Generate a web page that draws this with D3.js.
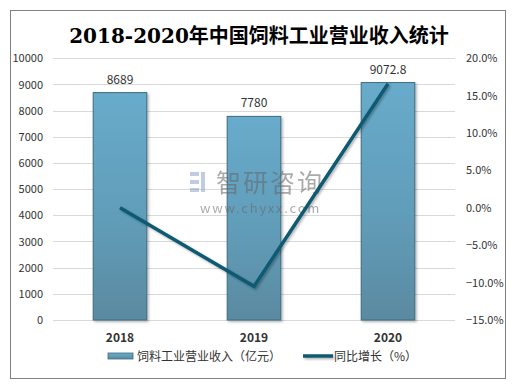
<!DOCTYPE html>
<html><head><meta charset="utf-8">
<script src="https://cdn.jsdelivr.net/npm/d3@7"></script>
<style>body{margin:0;background:#fff}svg{display:block}</style>
</head><body>
<script>
const years = ["2018", "2019", "2020"];
const revenue = [8689, 7780, 9072.8];
const revenueLabels = ["8689", "7780", "9072.8"];
const growth = [0.0, -10.5, 16.6];
const leftTicks = [0,1000,2000,3000,4000,5000,6000,7000,8000,9000,10000];
const rightTicks = [-15,-10,-5,0,5,10,15,20];

const W = 518, H = 385;
const svg = d3.select("body").append("svg").attr("width", W).attr("height", H);
const font = "'Microsoft YaHei','Noto Sans CJK SC',sans-serif";

const defs = svg.append("defs");
const g1 = defs.append("linearGradient").attr("id","barg").attr("x1",0).attr("y1",0).attr("x2",0).attr("y2",1);
g1.append("stop").attr("offset","0%").attr("stop-color","#68abcb");
g1.append("stop").attr("offset","55%").attr("stop-color","#619db9");
g1.append("stop").attr("offset","100%").attr("stop-color","#5a8aa1");
const g2 = defs.append("linearGradient").attr("id","legg").attr("x1",0).attr("y1",0).attr("x2",0).attr("y2",1);
g2.append("stop").attr("offset","0%").attr("stop-color","#6aaccb");
g2.append("stop").attr("offset","100%").attr("stop-color","#5a8aa1");
const f = defs.append("filter").attr("id","sh").attr("filterUnits","userSpaceOnUse")
  .attr("x",0).attr("y",0).attr("width",W).attr("height",H);
f.append("feDropShadow").attr("dx",1.5).attr("dy",1.5).attr("stdDeviation",1.2).attr("flood-color","#000").attr("flood-opacity",0.3);

svg.append("rect").attr("x",10.5).attr("y",10.5).attr("width",495).attr("height",368)
  .attr("fill","#fff").attr("stroke","#808080").attr("stroke-width",1);

svg.append("text").attr("x",259).attr("y",43).attr("text-anchor","middle")
  .attr("font-family","'DejaVu Serif','Noto Sans CJK SC',serif").attr("font-size",20).attr("font-weight","600")
  .attr("fill","#000").text("2018-2020年中国饲料工业营业收入统计");

const x = d3.scaleBand().domain(years).range([53,455]).paddingInner(0.6).paddingOuter(0.3);
const y = d3.scaleLinear().domain([0,10000]).range([320,58.3]);
const y2 = d3.scaleLinear().domain([-15,20]).range([320,58.3]);

// grid
svg.append("g").selectAll("line").data(leftTicks).join("line")
  .attr("x1",53).attr("x2",455).attr("y1",d=>Math.round(y(d))+0.5).attr("y2",d=>Math.round(y(d))+0.5)
  .attr("stroke","#d9d9d9").attr("stroke-width",1);

// left axis
const la = svg.append("g").attr("transform","translate(43,0)")
  .call(d3.axisLeft(y).tickValues(leftTicks).tickSize(0).tickPadding(0).tickFormat(d3.format("d")));
la.select(".domain").remove();
la.selectAll("text").attr("font-family",font).attr("font-size",11).attr("fill","#333");

// right axis
const ra = svg.append("g").attr("transform","translate(466,0)")
  .call(d3.axisRight(y2).tickValues(rightTicks).tickSize(0).tickPadding(0).tickFormat(d=>d3.format(".1f")(d)+"%"));
ra.select(".domain").remove();
ra.selectAll("text").attr("font-family",font).attr("font-size",11).attr("fill","#333");

// bars
svg.append("g").selectAll("rect").data(years).join("rect")
  .attr("x",d=>x(d)).attr("width",x.bandwidth())
  .attr("y",(d,i)=>y(revenue[i])).attr("height",(d,i)=>y(0)-y(revenue[i]))
  .attr("fill","url(#barg)").attr("stroke","#3e6b80").attr("stroke-width",1)
  .attr("filter","url(#sh)");

// bar labels
svg.append("g").selectAll("text").data(years).join("text")
  .attr("x",d=>x(d)+x.bandwidth()/2).attr("y",(d,i)=>y(revenue[i])-9)
  .attr("text-anchor","middle").attr("font-family",font).attr("font-size",12).attr("fill","#333")
  .text((d,i)=>revenueLabels[i]);

// x labels
svg.append("g").selectAll("text").data(years).join("text")
  .attr("x",d=>x(d)+x.bandwidth()/2).attr("y",342)
  .attr("text-anchor","middle").attr("font-family",font).attr("font-size",12).attr("font-weight","bold").attr("fill","#333")
  .text(d=>d);

// watermark
const wm = svg.append("g").attr("opacity",0.55);
wm.append("rect").attr("x",190).attr("y",172).attr("width",9).attr("height",4).attr("fill","#8fa3c8");
wm.append("rect").attr("x",190).attr("y",180).attr("width",9).attr("height",4).attr("fill","#8fa3c8");
wm.append("rect").attr("x",190).attr("y",188).attr("width",9).attr("height",4).attr("fill","#8fa3c8");
wm.append("rect").attr("x",201).attr("y",172).attr("width",4).attr("height",20).attr("fill","#8fa3c8");
wm.append("text").attr("x",216).attr("y",192).attr("font-family",font).attr("font-size",25).attr("fill","#666").attr("letter-spacing",2).text("智研咨询");
wm.append("text").attr("x",200).attr("y",213).attr("font-family",font).attr("font-size",13).attr("fill","#666").attr("letter-spacing",1.8).text("www.chyxx.com");

// line
const line = d3.line().x((d,i)=>x(years[i])+x.bandwidth()/2).y(d=>y2(d));
svg.append("path").datum(growth).attr("d",line).attr("fill","none")
  .attr("stroke","#0d5a72").attr("stroke-width",3.5).attr("stroke-linejoin","miter")
  .attr("filter","url(#sh)");

// legend
svg.append("rect").attr("x",108).attr("y",353).attr("width",25).attr("height",6)
  .attr("fill","url(#legg)").attr("stroke","#3e6b80").attr("stroke-width",0.8);
svg.append("text").attr("x",137).attr("y",361).attr("font-family",font).attr("font-size",12).attr("fill","#333")
  .text("饲料工业营业收入（亿元）");
svg.append("line").attr("x1",303).attr("x2",333).attr("y1",356).attr("y2",356)
  .attr("stroke","#0d5a72").attr("stroke-width",3.5).attr("filter","url(#sh)");
svg.append("text").attr("x",334).attr("y",361).attr("font-family",font).attr("font-size",12).attr("fill","#333")
  .text("同比增长（%）");
</script>
</body></html>
